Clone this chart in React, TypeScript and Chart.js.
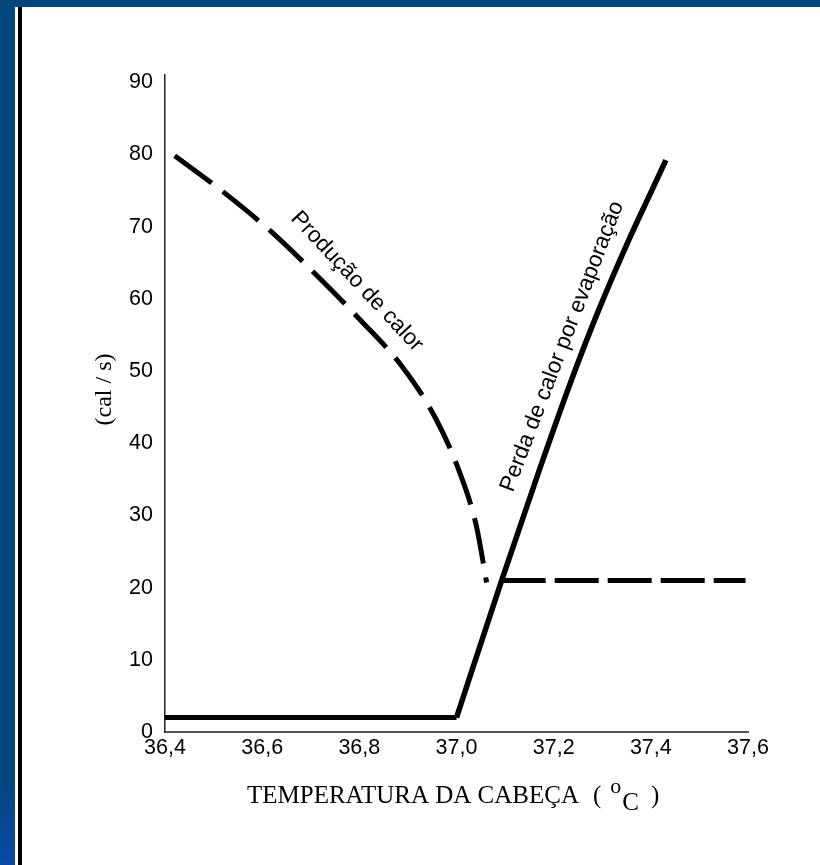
import React, { useEffect, useRef } from "react";
import { Chart, registerables } from "chart.js";

Chart.register(...registerables);

// ---- data ----
const xTickValues = [36.4, 36.6, 36.8, 37.0, 37.2, 37.4, 37.6];
const yTickValues = [0, 10, 20, 30, 40, 50, 60, 70, 80, 90];

// Produção de calor (dashed curve)
const producaoX = [36.42, 36.518, 36.617, 36.71, 36.803, 36.886, 36.955, 37.004, 37.041, 37.062];
const producaoY = [79.8, 74.9, 69.4, 63.4, 57.0, 50.8, 43.7, 36.4, 28.5, 20.7];
// Produção de calor (dashed plateau)
const producaoPlatoX = [37.093, 37.595];
const producaoPlatoY = [21, 21];
// Perda de calor por evaporação (solid)
const perdaBaseX = [36.4, 37.0];
const perdaBaseY = [2, 2];
const perdaSubidaX = [37.0, 37.093, 37.169, 37.238, 37.293, 37.355, 37.397, 37.431];
const perdaSubidaY = [2, 21.0, 36.0, 49.0, 58.5, 68.2, 74.3, 79.2];

const labelProducao = "Produção de calor";
const labelPerda = "Perda de calor por evaporação";
const xTitle = "TEMPERATURA DA CABEÇA";
const xUnitDeg = "o";
const xUnitC = "C";
const yTitle = "(cal / s)";

const toPoints = (xs: number[], ys: number[]) => xs.map((x, i) => ({ x, y: ys[i] }));

const SANS = "'Liberation Sans', Arial, Helvetica, sans-serif";
const SERIF = "'Liberation Serif', 'Times New Roman', serif";

const annotations = [
  { text: labelProducao, x: 36.795, y: 62.4, angle: 47 },
  { text: labelPerda, x: 37.218, y: 53.4, angle: -69 },
];

const textPlugin = {
  id: "customText",
  afterDraw(chart: any) {
    const { ctx, chartArea, scales } = chart;
    ctx.save();
    ctx.fillStyle = "#000";
    // annotations along curves
    ctx.font = `22.5px ${SANS}`;
    ctx.textAlign = "center";
    ctx.textBaseline = "middle";
    for (const a of annotations) {
      const px = scales.x.getPixelForValue(a.x);
      const py = scales.y.getPixelForValue(a.y);
      ctx.save();
      ctx.translate(px, py);
      ctx.rotate((a.angle * Math.PI) / 180);
      ctx.fillText(a.text, 0, 0);
      ctx.restore();
    }
    // y title
    ctx.save();
    ctx.font = `24px ${SERIF}`;
    ctx.translate(chartArea.left - 60, (chartArea.top + chartArea.bottom) / 2 - 14);
    ctx.rotate(-Math.PI / 2);
    ctx.textAlign = "center";
    ctx.textBaseline = "middle";
    ctx.fillText(yTitle, 0, 0);
    ctx.restore();
    // x title with superscript
    ctx.textAlign = "left";
    ctx.textBaseline = "alphabetic";
    const big = `25px ${SERIF}`;
    const small = `22px ${SERIF}`;
    const left = chartArea.left + 82;
    const base = chartArea.bottom + 71;
    ctx.font = big;
    const wMain = ctx.measureText(xTitle).width;
    const wOpen = ctx.measureText("(").width;
    const wC = ctx.measureText(xUnitC).width;
    let x0 = left;
    ctx.fillText(xTitle, x0, base);
    x0 += wMain + 14;
    ctx.fillText("(", x0, base);
    x0 += wOpen + 9;
    ctx.font = small;
    ctx.fillText(xUnitDeg, x0, base - 10);
    ctx.font = big;
    ctx.fillText(xUnitC, x0 + 12, base + 7);
    x0 += 12 + wC + 12;
    ctx.fillText(")", x0, base);
    ctx.restore();
  },
};

export default function App() {
  const ref = useRef<HTMLCanvasElement>(null);

  useEffect(() => {
    document.body.style.margin = "0";
    const canvas = ref.current;
    if (!canvas) return;
    const lineBase = {
      borderColor: "#000",
      backgroundColor: "#000",
      borderWidth: 5,
      pointRadius: 0,
      fill: false,
    };
    const chart = new Chart(canvas, {
      type: "line",
      data: {
        datasets: [
          {
            ...lineBase,
            label: labelProducao,
            data: toPoints(producaoX, producaoY),
            cubicInterpolationMode: "monotone",
            borderDash: [46, 14],
          },
          {
            ...lineBase,
            label: labelProducao + " (platô)",
            data: toPoints(producaoPlatoX, producaoPlatoY),
            borderDash: [44, 9],
          },
          {
            ...lineBase,
            label: labelPerda + " (base)",
            data: toPoints(perdaBaseX, perdaBaseY),
          },
          {
            ...lineBase,
            label: labelPerda,
            data: toPoints(perdaSubidaX, perdaSubidaY),
            cubicInterpolationMode: "monotone",
            borderWidth: 5.5,
          },
        ],
      } as any,
      options: {
        responsive: false,
        animation: false,
        events: [],
        layout: { padding: { left: 20, top: 75, right: 72, bottom: 0 } },
        plugins: {
          legend: { display: false },
          tooltip: { enabled: false },
          title: { display: false },
        },
        scales: {
          x: {
            type: "linear",
            min: 36.4,
            max: 37.6,
            afterBuildTicks: (s: any) => {
              s.ticks = xTickValues.map((v) => ({ value: v }));
            },
            afterFit: (s: any) => {
              s.height = 133;
            },
            grid: { display: false, drawTicks: false },
            border: { display: true, color: "#555", width: 2 },
            ticks: {
              padding: 3,
              color: "#000",
              font: { family: SANS, size: 21.5 },
              maxRotation: 0,
              autoSkip: false,
              callback: (v: any) => Number(v).toFixed(1).replace(".", ","),
            },
          },
          y: {
            type: "linear",
            min: 0,
            max: 91,
            afterBuildTicks: (s: any) => {
              s.ticks = yTickValues.map((v) => ({ value: v }));
            },
            afterFit: (s: any) => {
              s.width = 145;
            },
            grid: { display: false, drawTicks: false },
            border: { display: true, color: "#222", width: 1.5 },
            ticks: {
              padding: 12,
              color: "#000",
              font: { family: SANS, size: 21.5 },
              autoSkip: false,
              callback: (v: any) => String(v),
            },
          },
        },
      } as any,
      plugins: [textPlugin],
    });
    return () => chart.destroy();
  }, []);

  return (
    <div style={{ position: "relative", width: 820, height: 865, background: "#fff", overflow: "hidden" }}>
      <div style={{ position: "absolute", left: 0, top: 0, width: 820, height: 7, background: "#02467c" }} />
      <div
        style={{
          position: "absolute",
          left: 0,
          top: 0,
          width: 15,
          height: 865,
          background: "linear-gradient(#02467c 0%, #02467c 90%, #0b4aa8 100%)",
        }}
      />
      <div style={{ position: "absolute", left: 18, top: 7, width: 4, height: 858, background: "#000" }} />
      <canvas ref={ref} width={820} height={865} style={{ position: "absolute", left: 0, top: 0 }} />
    </div>
  );
}
